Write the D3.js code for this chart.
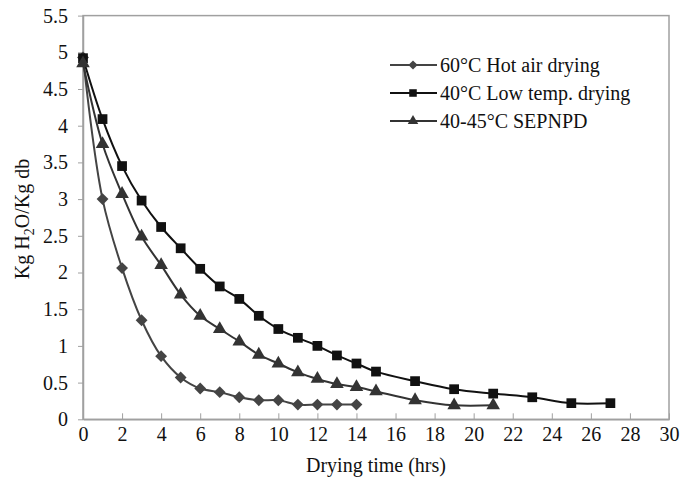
<!DOCTYPE html>
<html>
<head>
<meta charset="utf-8">
<script src="https://cdn.jsdelivr.net/npm/d3@7"></script>
<style>
  body { margin: 0; background: #fff; }
  text { font-family: "Liberation Serif", "Times New Roman", serif; fill: #111; }
</style>
</head>
<body>
<div id="chart"></div>
<script>
// drying curves
const hotAirHours = [0, 1, 2, 3, 4, 5, 6, 7, 8, 9, 10, 11, 12, 13, 14];
const hotAirMoisture = [4.93, 3.0, 2.06, 1.35, 0.86, 0.57, 0.42, 0.37, 0.3, 0.26, 0.26, 0.2, 0.2, 0.2, 0.2];

const lowTempHours = [0, 1, 2, 3, 4, 5, 6, 7, 8, 9, 10, 11, 12, 13, 14, 15, 17, 19, 21, 23, 25, 27];
const lowTempMoisture = [4.92, 4.09, 3.45, 2.98, 2.62, 2.33, 2.05, 1.81, 1.64, 1.41, 1.23, 1.11, 1.0, 0.87, 0.76, 0.65, 0.52, 0.41, 0.35, 0.3, 0.22, 0.22];

const sepHours = [0, 1, 2, 3, 4, 5, 6, 7, 8, 9, 10, 11, 12, 13, 14, 15, 17, 19, 21];
const sepMoisture = [4.85, 3.75, 3.07, 2.49, 2.1, 1.7, 1.41, 1.23, 1.06, 0.88, 0.76, 0.64, 0.55, 0.48, 0.44, 0.38, 0.26, 0.19, 0.19];

const seriesNames = ["60\u00b0C Hot air drying", "40\u00b0C Low temp. drying", "40-45\u00b0C SEPNPD"];
const xTicks = d3.range(0, 31, 2);
const yTicks = d3.range(0, 5.51, 0.5);

const width = 680, height = 481;
const margin = {left: 83, top: 15.6, right: 11, bottom: 61.7};
const fontSize = 20;

const svg = d3.select("#chart").append("svg")
    .attr("width", width)
    .attr("height", height);

const x = d3.scaleLinear([0, 30], [margin.left, width - margin.right]);
const y = d3.scaleLinear([0, 5.5], [height - margin.bottom, margin.top]);

// plot frame
svg.append("rect")
    .attr("x", x(0))
    .attr("y", y(5.5))
    .attr("width", x(30) - x(0))
    .attr("height", y(0) - y(5.5))
    .attr("fill", "none")
    .attr("stroke", "#a0a0a0")
    .attr("stroke-width", 1.5);

const xAxis = svg.append("g")
    .attr("transform", `translate(0,${y(0)})`)
    .call(d3.axisBottom(x).tickValues(xTicks).tickSizeInner(-6).tickSizeOuter(0).tickPadding(8).tickFormat(d3.format("d")));
xAxis.select(".domain").attr("stroke", "#a0a0a0").attr("stroke-width", 1.5);
xAxis.selectAll(".tick line").attr("stroke", "#a0a0a0");
xAxis.selectAll("text").attr("font-size", fontSize).attr("fill", "#111").attr("font-family", "Liberation Serif");

const yAxis = svg.append("g")
    .attr("transform", `translate(${x(0)},0)`)
    .call(d3.axisLeft(y).tickValues(yTicks).tickSizeInner(5).tickSizeOuter(0).tickPadding(10).tickFormat(d => d3.format("")(+d.toFixed(1))));
yAxis.select(".domain").attr("stroke", "#a0a0a0").attr("stroke-width", 1.5);
yAxis.selectAll(".tick line").attr("stroke", "#a0a0a0");
yAxis.selectAll("text").attr("font-size", fontSize).attr("fill", "#111").attr("font-family", "Liberation Serif");

// axis titles
svg.append("text")
    .attr("x", 376)
    .attr("y", 472)
    .attr("text-anchor", "middle")
    .attr("font-size", fontSize)
    .text("Drying time (hrs)");

const yTitle = svg.append("text")
    .attr("transform", "translate(29,219) rotate(-90)")
    .attr("text-anchor", "middle")
    .attr("font-size", fontSize);
yTitle.append("tspan").text("Kg H");
yTitle.append("tspan").attr("font-size", 14).attr("dy", 5).text("2");
yTitle.append("tspan").attr("dy", -5).text("O/Kg db");

// diamonds drawn as squares turned 45 degrees, like the spreadsheet markers
const series = [
    {name: seriesNames[0], hours: hotAirHours, values: hotAirMoisture, color: "#444", symbol: d3.symbolSquare, size: 70, rot: 45},
    {name: seriesNames[1], hours: lowTempHours, values: lowTempMoisture, color: "#111", symbol: d3.symbolSquare, size: 95, rot: 0},
    {name: seriesNames[2], hours: sepHours, values: sepMoisture, color: "#333", symbol: d3.symbolTriangle, size: 80, rot: 0}
];

const line = d3.line()
    .x(d => x(d[0]))
    .y(d => y(d[1]))
    .curve(d3.curveCatmullRom.alpha(0.5));

series.forEach(s => {
    const pts = s.hours.map((h, i) => [h, s.values[i]]);
    svg.append("path")
        .datum(pts)
        .attr("d", line)
        .attr("fill", "none")
        .attr("stroke", s.color)
        .attr("stroke-width", 2);
    svg.append("g").selectAll("path")
        .data(pts)
        .join("path")
        .attr("transform", d => `translate(${x(d[0])},${y(d[1])}) rotate(${s.rot})`)
        .attr("d", d3.symbol(s.symbol, s.size))
        .attr("fill", s.color);
});

// legend
const legend = svg.append("g").attr("transform", "translate(390,65)");
series.forEach((s, i) => {
    const g = legend.append("g").attr("transform", `translate(0,${i * 28})`);
    g.append("line")
        .attr("x1", 0).attr("x2", 47)
        .attr("stroke", s.color)
        .attr("stroke-width", 2);
    g.append("path")
        .attr("transform", `translate(23,0) rotate(${s.rot})`)
        .attr("d", d3.symbol(s.symbol, s.size * 0.6))
        .attr("fill", s.color);
    g.append("text")
        .attr("x", 50)
        .attr("dy", "0.35em")
        .attr("font-size", fontSize)
        .text(s.name);
});
</script>
</body>
</html>
